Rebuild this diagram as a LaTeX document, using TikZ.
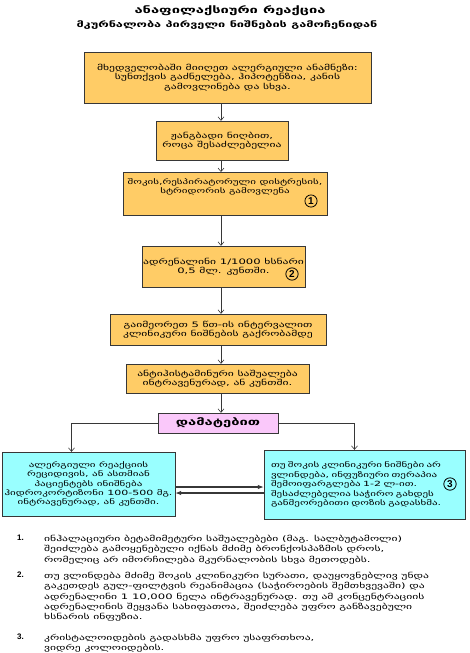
\documentclass[tikz,border=0pt]{standalone}
\usepackage{fontspec}
\newfontfamily\geo[FakeStretch=1.55]{DejaVu Sans}
\newfontfamily\numfont{Liberation Sans}
\usetikzlibrary{arrows.meta, calc}
\definecolor{boxorange}{RGB}{255,204,102}
\definecolor{boxpink}{RGB}{250,200,250}
\definecolor{boxcyan}{RGB}{153,255,255}
\definecolor{edgegray}{RGB}{55,55,55}

\begin{document}
\begin{tikzpicture}[x=1pt, y=-1pt, font=\geo\fontsize{7.5}{9.3}\selectfont,
    stepbox/.style={draw=edgegray, fill=boxorange, inner sep=0pt, align=center},
    extrabox/.style={draw=edgegray, fill=boxpink, inner sep=0pt,
        font=\geo\bfseries\fontsize{9.5}{10}\selectfont},
    sidebox/.style={draw=edgegray, fill=boxcyan, inner sep=0pt,
        font=\geo\fontsize{7.1}{9.4}\selectfont},
    numcircle/.style={circle, draw=black, inner sep=1.2pt, line width=0.8pt,
        font=\numfont\bfseries\fontsize{10}{10}\selectfont},
    arr/.style={draw=edgegray, semithick, -{Straight Barb[length=3.5pt,width=6pt]}},
    harr/.style={draw=edgegray, line width=1.1pt, -{Latex[length=6pt,width=4.5pt]}},
    notetext/.style={anchor=north west, align=left, inner sep=0pt,
        font=\geo\fontsize{7.5}{10.3}\selectfont},
    notenum/.style={anchor=north west, inner sep=0pt,
        font=\numfont\bfseries\fontsize{8}{10.3}\selectfont}]
    \useasboundingbox[fill=white] (0,0) rectangle (469,653);
    % heading
    \node[font=\geo\bfseries\fontsize{9.5}{11}\selectfont] (title) at (230,11) {ანაფილაქსიური რეაქცია};
    \node[font=\geo\bfseries\fontsize{8.2}{9}\selectfont] (subtitle) at (227,25) {მკურნალობა პირველი ნიშნების გამოჩენიდან};
    % main steps
    \node[stepbox, minimum width=287, minimum height=51] (b1) at (227.5,77.5)
        {მხედველობაში მიიღეთ ალერგიული ანამნეზი:\\ სუნთქვის გაძნელება, ჰიპოტენზია, კანის\\ გამოვლინება და სხვა.};
    \node[stepbox, minimum width=132, minimum height=39] (b2) at (222,140.5)
        {ჟანგბადი ნიღბით,\\ როცა შესაძლებელია};
    \node[stepbox, minimum width=204, minimum height=43, anchor=north,
          font=\geo\fontsize{7.1}{9.5}\selectfont] (b3) at (225,172)
        {შოკის,რესპირატორული დისტრესის,\\ სტრიდორის გამოვლენა\hspace{30pt}\\[3pt]\strut};
    \node[numcircle] (m1) at (311,201) {1};
    \node[stepbox, minimum width=163, minimum height=41] (b4) at (223.5,266.5)
        {ადრენალინი 1/1000 ხსნარი\\ 0,5 მლ. კუნთში.};
    \node[numcircle] (m2) at (292,274) {2};
    \node[stepbox, minimum width=216, minimum height=31] (b5) at (218,329.5)
        {გაიმეორეთ 5 წთ-ის ინტერვალით\\ კლინიკური ნიშნების გაქრობამდე};
    \node[stepbox, minimum width=183, minimum height=29] (b6) at (217.5,378.5)
        {ანტიჰისტამინური საშუალება\\ ინტრავენურად, ან კუნთში.};
    \node[extrabox, minimum width=120, minimum height=20] (extra) at (218,423) {დამატებით};
    % side branches
    \node[sidebox, align=center, minimum width=173, minimum height=64] (cl) at (88.5,484)
        {ალერგიული რეაქციის\\ რეციდივის, ან ასთმიან\\ პაციენტებს ინიშნება\\ ჰიდროკორტიზონი 100-500 მგ.\\ ინტრავენურად, ან კუნთში.};
    \node[sidebox, align=left, text width=187, inner xsep=7, minimum height=69] (cr) at (364.5,484.5)
        {თუ შოკის კლინიკური ნიშნები არ\\ ვლინდება, ინფუზიური თერაპია\\ შემოიფარგლება 1-2 ლ-ით.\\ შესაძლებელია საჭირო გახდეს\\ განმეორებითი დოზის გადასხმა.};
    \node[numcircle] (m3) at (450,484) {3};
    % connectors
    \coordinate (axis) at (221,0);
    \coordinate (hi) at (0,487);
    \coordinate (lo) at (0,493);
    \draw[arr] (b1.south -| axis) -- (b2.north -| axis);
    \draw[arr] (b2.south -| axis) -- (b3.north -| axis);
    \draw[arr] (b3.south -| axis) -- (b4.north -| axis);
    \draw[arr] (b4.south -| axis) -- (b5.north -| axis);
    \draw[arr] (b5.south -| axis) -- (b6.north -| axis);
    \draw[arr] (b6.south -| axis) -- (extra.north -| axis);
    \draw[arr] (extra.west) -| ([xshift=-17pt]cl.north);
    \draw[arr] (extra.east) -| ([xshift=-10pt]cr.north);
    \draw[harr] (cl.east |- hi) -- (cr.west |- hi);
    \draw[harr] (cr.west |- lo) -- (cl.east |- lo);
    % notes
    \node[notenum] (n1) at (17,535) {1.};
    \node[notetext] (fn1) at (44,535)
        {ინჰალაციური ბეტამიმეტური საშუალებები (მაგ. სალბუტამოლი)\\ შეიძლება გამოყენებული იქნას მძიმე ბრონქოსპაზმის დროს,\\ რომელიც არ იმორჩილება მკურნალობის სხვა მეთოდებს.};
    \node[notenum] (n2) at (17,572) {2.};
    \node[notetext] (fn2) at (44,572)
        {თუ ვლინდება მძიმე შოკის კლინიკური სურათი, დაუყოვნებლივ უნდა\\ გაკეთდეს გულ-ფილტვის რეანიმაცია (საჭიროების შემთხვევაში) და\\ ადრენალინი 1 10,000 ნელა ინტრავენურად. თუ ამ კონცენტრაციის\\ ადრენალინის შეყვანა სახიფათოა, შეიძლება უფრო განზავებული\\ ხსნარის ინფუზია.};
    \node[notenum] (n3) at (17,634) {3.};
    \node[notetext] (fn3) at (44,634)
        {კრისტალოიდების გადასხმა უფრო უსაფრთხოა,\\ ვიდრე კოლოიდების.};
\end{tikzpicture}
\end{document}
